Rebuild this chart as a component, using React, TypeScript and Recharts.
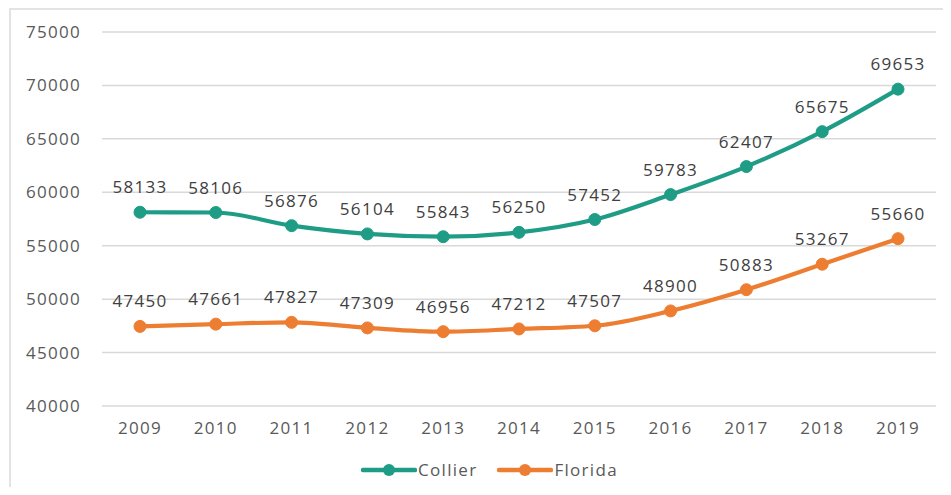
import { LineChart, Line, XAxis, YAxis, CartesianGrid, LabelList } from "recharts";

const years = ["2009", "2010", "2011", "2012", "2013", "2014", "2015", "2016", "2017", "2018", "2019"];
const collier = [58133, 58106, 56876, 56104, 55843, 56250, 57452, 59783, 62407, 65675, 69653];
const florida = [47450, 47661, 47827, 47309, 46956, 47212, 47507, 48900, 50883, 53267, 55660];
const yTicks = [40000, 45000, 50000, 55000, 60000, 65000, 70000, 75000];
const seriesNames = ["Collier", "Florida"];

const TEAL = "#1E9C85";
const ORANGE = "#ED7D31";
const FONT = "'Open Sans', 'Liberation Sans', sans-serif";
const colors = [TEAL, ORANGE];

const data = years.map((year, i) => ({ year, Collier: collier[i], Florida: florida[i] }));

const textStyle = { fill: "#595959", fontSize: 17, fontFamily: FONT, letterSpacing: 1.3 };
const labelStyle = { fill: "#404040", fontSize: 17, fontFamily: FONT, letterSpacing: 1.3 };

function LegendBox() {
  return (
    <div
      style={{
        position: "absolute",
        left: 361,
        top: 458,
        display: "flex",
        alignItems: "center",
        fontFamily: FONT,
        fontSize: 17,
        letterSpacing: 1.3,
        color: "#595959",
      }}
    >
      {seriesNames.map((name, i) => (
        <div key={name} style={{ display: "flex", alignItems: "center", marginRight: 20 }}>
          <svg width={56} height={14} style={{ marginRight: 1 }}>
            <line x1={2} y1={7} x2={54} y2={7} stroke={colors[i]} strokeWidth={4.5} strokeLinecap="round" />
            <circle cx={28} cy={7} r={6} fill={colors[i]} />
          </svg>
          <span>{name}</span>
        </div>
      ))}
    </div>
  );
}

export default function App() {
  return (
    <div style={{ position: "relative", margin: -8, width: 951, height: 495, overflow: "hidden", background: "#fff" }}>
      <div
        style={{
          position: "absolute",
          left: 9,
          top: 8,
          width: 1000,
          height: 600,
          border: "2px solid #e3e3e3",
          boxSizing: "border-box",
        }}
      />
      <div style={{ position: "absolute", left: 0, top: 0 }}>
        <LineChart width={951} height={495} data={data} margin={{ top: 32, right: 15, bottom: 0, left: 22 }}>
          <CartesianGrid vertical={false} stroke="#d9d9d9" strokeWidth={1.5} />
          <XAxis
            dataKey="year"
            height={89}
            axisLine={false}
            tickLine={false}
            tickMargin={10}
            padding={{ left: 38, right: 38 }}
            tick={textStyle}
            interval={0}
          />
          <YAxis
            width={80}
            domain={[40000, 75000]}
            ticks={yTicks}
            axisLine={false}
            tickLine={false}
            tickMargin={15}
            tick={textStyle}
          />
          <Line
            type="monotone"
            dataKey="Collier"
            stroke={TEAL}
            strokeWidth={4.2}
            dot={{ r: 6, fill: TEAL, stroke: TEAL, strokeWidth: 1 }}
            isAnimationActive={false}
          >
            <LabelList dataKey="Collier" position="top" offset={19} {...labelStyle} />
          </Line>
          <Line
            type="monotone"
            dataKey="Florida"
            stroke={ORANGE}
            strokeWidth={4.2}
            dot={{ r: 6, fill: ORANGE, stroke: ORANGE, strokeWidth: 1 }}
            isAnimationActive={false}
          >
            <LabelList dataKey="Florida" position="top" offset={19} {...labelStyle} />
          </Line>
        </LineChart>
      </div>
      <LegendBox />
    </div>
  );
}
